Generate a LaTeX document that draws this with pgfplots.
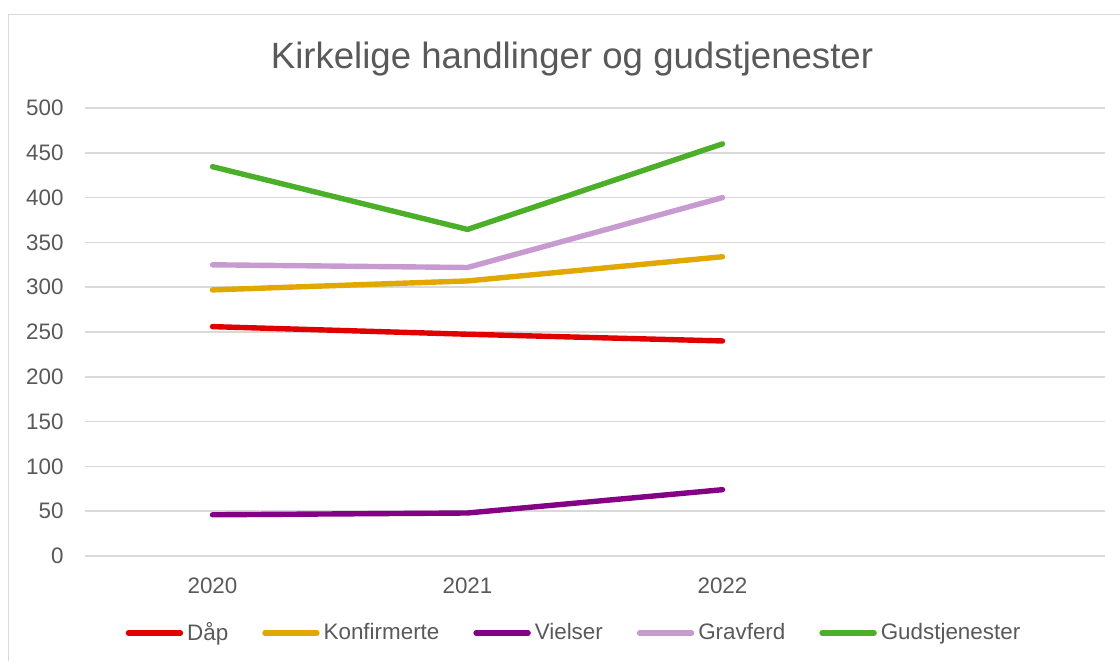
\documentclass[border=0pt]{standalone}
\usepackage{pgfplots}
\pgfplotsset{compat=1.18}
\usepackage{fontspec}
\setmainfont{Liberation Sans}
\definecolor{txt}{HTML}{595959}
\definecolor{gridc}{HTML}{D9D9D9}
\definecolor{cdaap}{HTML}{E00000}
\definecolor{ckonf}{HTML}{E0A800}
\definecolor{cviel}{HTML}{840084}
\definecolor{cgrav}{HTML}{C89BD0}
\definecolor{cguds}{HTML}{4CAF2A}
\begin{document}
\begin{tikzpicture}[x=0.5pt,y=0.5pt]
\useasboundingbox (0,0) rectangle (1120,661);
\draw[gridc, line width=0.75pt] (8.5,0) -- (8.5,646.5) -- (1120,646.5);
\node[anchor=base, text=txt, font=\fontsize{18.3}{21}\selectfont, inner sep=0pt] at (572,593) {Kirkelige handlinger og gudstjenester};
\begin{axis}[
  at={(42.5pt,52.5pt)}, anchor=south west,
  scale only axis, width=510pt, height=224pt,
  xmin=-0.5, xmax=3.5, ymin=0, ymax=500,
  xtick={0,1,2}, xticklabels={2020,2021,2022},
  ytick distance=50,
  ymajorgrids, grid style={gridc, line width=0.75pt},
  axis line style={draw=none},
  major tick style={draw=none},
  tick label style={text=txt, font=\fontsize{11.2}{13}\selectfont, inner sep=0pt},
  xticklabel style={yshift=-10.5pt},
  yticklabel style={xshift=-10.5pt},
  /pgf/number format/assume math mode=true,
  clip=false,
  every axis plot/.append style={line width=2.7pt, line cap=round, line join=round},
  legend columns=5,
  legend style={at={(0.4804,-0.1719)}, anchor=center, draw=none, fill=none,
    font=\fontsize{11.2}{13}\selectfont, text=txt,
    /tikz/every even column/.append style={column sep=15pt},
    nodes={inner sep=0pt, inner xsep=2pt}},
  legend image code/.code={\draw[#1, line width=2.7pt, line cap=round] (0pt,0pt) -- (26pt,0pt);},
]
\addplot[cdaap] coordinates {(0,256) (1,247.5) (2,240)};
\addlegendentry{Dåp}
\addplot[ckonf] coordinates {(0,297) (1,307) (2,334)};
\addlegendentry{Konfirmerte}
\addplot[cviel] coordinates {(0,46) (1,48) (2,74)};
\addlegendentry{Vielser}
\addplot[cgrav] coordinates {(0,325) (1,322) (2,400)};
\addlegendentry{Gravferd}
\addplot[cguds] coordinates {(0,434.5) (1,364.5) (2,460)};
\addlegendentry{Gudstjenester}
\end{axis}
\end{tikzpicture}
\end{document}
